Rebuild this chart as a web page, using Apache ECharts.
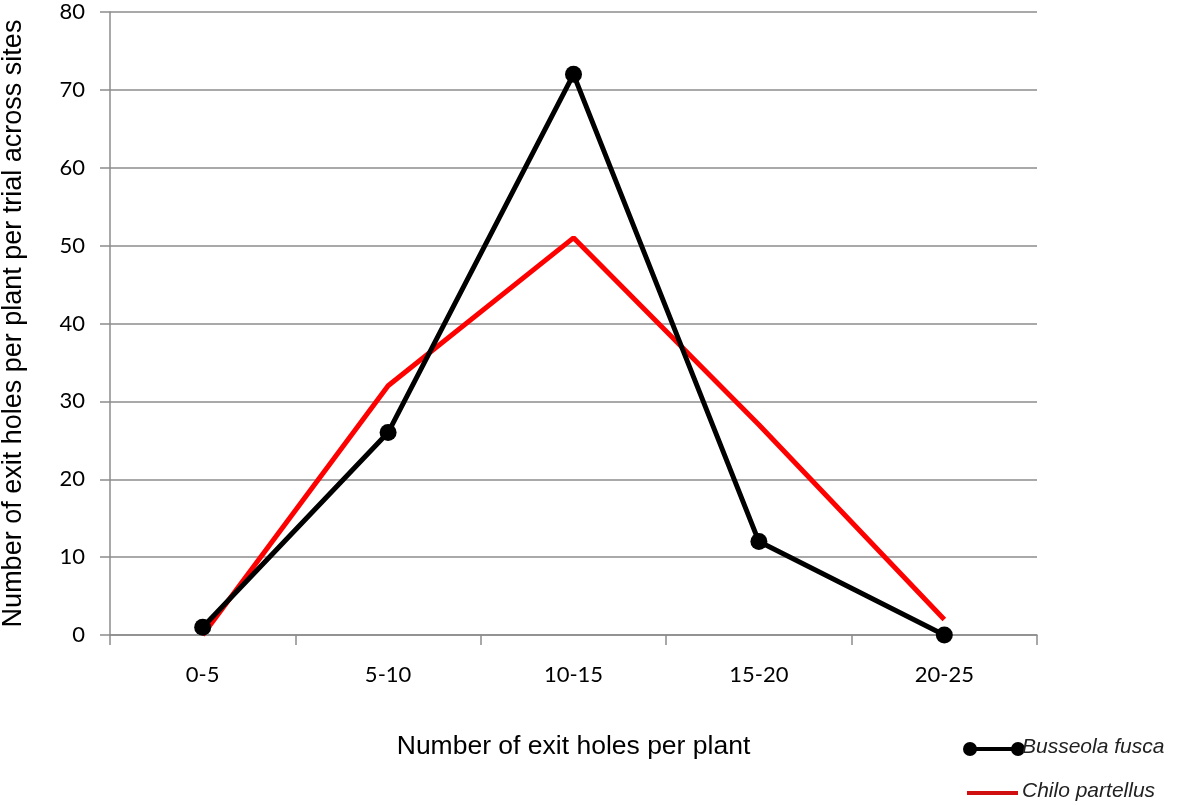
<!DOCTYPE html>
<html>
<head>
<meta charset="utf-8">
<script src="https://cdn.jsdelivr.net/npm/echarts@6/dist/echarts.min.js"></script>
<style>
  html, body { margin: 0; padding: 0; background: #fff; }
  #chart { width: 1195px; height: 805px; }
</style>
</head>
<body>
<div id="chart"></div>
<script>
// Exit-hole class per plant
const categories = ['0-5', '5-10', '10-15', '15-20', '20-25'];
// Counts per plant per trial across sites
const busseolaFusca = [1, 26, 72, 12, 0];
const chiloPartellus = [0, 32, 51, 27, 2];
const seriesNames = ['Busseola fusca', 'Chilo partellus'];

const chart = echarts.init(document.getElementById('chart'));
const titleFont = '"Liberation Sans", Arial, sans-serif';
const tickFont = 'Lato, "Open Sans", sans-serif';
const gridColor = '#8c8c8c';

chart.setOption({
  animation: false,
  grid: { left: 110, right: 158, top: 12, bottom: 170, containLabel: false, outerBoundsMode: 'none' },
  xAxis: {
    type: 'category',
    data: categories,
    boundaryGap: true,
    name: 'Number of exit holes per plant',
    nameLocation: 'middle',
    nameGap: 98,
    nameTextStyle: { fontFamily: titleFont, fontSize: 26.5, color: '#000' },
    axisLine: { lineStyle: { color: gridColor, width: 1.5 } },
    axisTick: { show: true, length: 10, alignWithLabel: false, lineStyle: { color: gridColor, width: 1.5 } },
    axisLabel: { fontFamily: tickFont, fontSize: 22, color: '#000', margin: 29 }
  },
  yAxis: {
    type: 'value',
    min: 0,
    max: 80,
    interval: 10,
    name: 'Number of exit holes per plant per trial across sites',
    nameLocation: 'middle',
    nameGap: 83,
    nameTextStyle: { fontFamily: titleFont, fontSize: 27, color: '#000' },
    axisLine: { show: true, lineStyle: { color: gridColor, width: 1.5 } },
    axisTick: { show: true, length: 10, lineStyle: { color: gridColor, width: 1.5 } },
    axisLabel: { fontFamily: tickFont, fontSize: 22, color: '#000', margin: 25 },
    splitLine: { show: true, lineStyle: { color: gridColor, width: 1.5 } }
  },
  series: [
    {
      name: seriesNames[1],
      type: 'line',
      data: chiloPartellus,
      symbol: 'none',
      lineStyle: { color: '#ff0000', width: 5 },
      itemStyle: { color: '#ff0000' },
      z: 2
    },
    {
      name: seriesNames[0],
      type: 'line',
      data: busseolaFusca,
      symbol: 'circle',
      symbolSize: 17,
      lineStyle: { color: '#000', width: 5 },
      itemStyle: { color: '#000' },
      z: 3
    }
  ],
  graphic: [
    { type: 'line', shape: { x1: 970, y1: 749, x2: 1018, y2: 749 }, style: { stroke: '#000', lineWidth: 4 } },
    { type: 'circle', shape: { cx: 970, cy: 749, r: 7 }, style: { fill: '#000' } },
    { type: 'circle', shape: { cx: 1018, cy: 749, r: 7 }, style: { fill: '#000' } },
    { type: 'text', left: 1022, top: 737, style: { text: seriesNames[0], fontFamily: titleFont, fontStyle: 'italic', fontSize: 21, fill: '#222' } },
    { type: 'line', shape: { x1: 967, y1: 793, x2: 1018, y2: 793 }, style: { stroke: '#d01010', lineWidth: 4 } },
    { type: 'text', left: 1022, top: 781, style: { text: seriesNames[1], fontFamily: titleFont, fontStyle: 'italic', fontSize: 21, fill: '#222' } }
  ]
});
</script>
</body>
</html>
